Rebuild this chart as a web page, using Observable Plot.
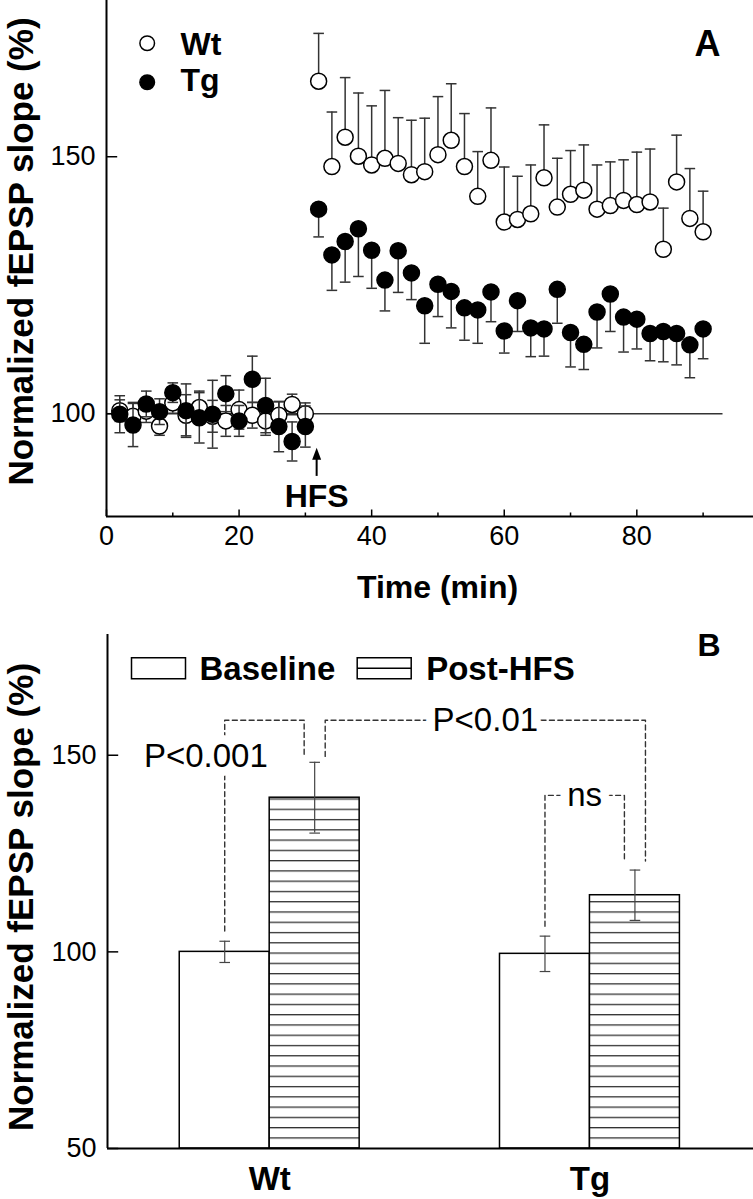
<!DOCTYPE html>
<html><head><meta charset="utf-8">
<script src="https://cdn.jsdelivr.net/npm/d3@7"></script>
<script src="https://cdn.jsdelivr.net/npm/@observablehq/plot@0.6"></script>
<style>
html,body{margin:0;padding:0;background:#fff;}
#chart svg{display:block;}
</style></head>
<body><div id="chart"></div>
<script>
// ---------------- Panel A data ----------------
const times = [2,4,6,8,10,12,14,16,18,20,22,24,26,28,30,
  32,34,36,38,40,42,44,46,48,50,52,54,56,58,60,62,64,66,68,70,72,74,76,78,80,82,84,86,88,90];
const wtMean = [100.6,99.5,100.5,97.6,102.1,99.7,101.2,99.5,98.6,100.8,99.7,98.6,99.7,101.8,100.0,
  164.7,148.1,153.8,150.1,148.4,149.7,148.7,146.5,147.1,150.4,153.2,148.1,142.3,149.3,137.3,
  137.8,138.9,145.9,140.2,142.7,143.5,139.8,140.5,141.5,140.7,141.2,132.0,145.1,138.0,135.4];
const wtErr = [2.1,2.7,2.2,1.8,2.0,4.0,3.2,3.1,3.0,3.8,2.5,2.8,2.6,2.0,2.1,
  9.3,10.6,11.6,12.3,11.5,13.2,8.9,10.6,10.4,11.3,11.0,10.3,8.7,10.2,10.7,
  8.4,9.5,10.3,9.5,8.5,8.8,8.6,8.5,7.9,10.2,10.3,8.0,9.1,9.7,7.9];
const tgMean = [99.9,97.8,101.9,100.4,104.1,100.6,99.2,99.9,103.9,98.6,106.7,101.6,97.5,94.6,97.5,
  139.8,130.9,133.5,136.0,131.8,126.0,131.7,127.4,121.0,125.2,123.8,120.6,120.2,123.7,116.1,
  122.0,116.7,116.5,124.2,115.8,113.5,119.8,123.3,118.8,118.4,115.6,116.0,115.6,113.4,116.5];
const tgErr = [3.6,4.2,2.5,2.5,1.9,5.2,4.9,6.6,3.5,3.0,4.5,5.3,4.9,3.8,4.0,
  5.4,6.9,7.9,9.3,7.4,6.0,8.1,5.2,7.3,6.3,7.1,6.3,6.5,5.8,4.3,
  6.0,5.6,5.3,6.6,6.7,4.9,7.0,7.3,6.8,5.8,5.3,5.9,6.1,6.4,5.8];
const seriesA = ["Wt", "Tg"];
const xMajorA = [0, 20, 40, 60, 80];
const xMinorA = [10, 30, 50, 70, 90];
const yTicksA = [100, 150];
const hfsTime = 31.7;
const hfsAnn = [{t: hfsTime, stem1: 87.8, stem2: 91.5, tip: 93.4, labelY: 81.9, label: "HFS"}];
const refLine = [{y: 100, from: 0, to: 93}];

// ---------------- Panel B data ----------------
const groups = ["Wt", "Tg"];
const conditions = ["Baseline", "Post-HFS"];
const baselineMean = [100.0, 99.5];
const baselineSem = [2.7, 4.5];
const postMean = [139.2, 114.4];
const postSem = [9.0, 6.4];
const yTicksB = [50, 100, 150];
// significance brackets: legs = [groupIndex, conditionIndex, side, bottom value]
const brackets = [
  {id: "b1", label: "P<0.001", top: 158.9, legs: [[0,0,0,105.3],[0,1,-1,149.7]], labelY: 149.8, labelShift: -0.21, labelAt: "leg"},
  {id: "b2", label: "P<0.01", top: 158.9, legs: [[0,1,1,149.7],[1,1,1,123.1]], labelAt: "mid"},
  {id: "b3", label: "ns", top: 139.8, legs: [[1,0,0,106.5],[1,1,-1,123.1]], labelAt: "mid"}
];

// ---------------- helpers ----------------
const fontFamily = "'Liberation Sans', Arial, Helvetica, sans-serif";
const seg = (x1,y1,x2,y2) => ({draw(ctx){ctx.moveTo(x1,y1); ctx.lineTo(x2,y2);}});
const capA = seg(-5.3,0,5.3,0);
const capB = seg(-5.3,0,5.3,0);
const yTickSym = seg(0,0,10.7,0);
const xMajorSym = seg(0,0,0,-7);
const xMinorSym = seg(0,0,0,-4);
const triUp = {draw(ctx){ctx.moveTo(0,0); ctx.lineTo(-4.5,12); ctx.lineTo(4.5,12); ctx.closePath();}};
const boxSym = {draw(ctx){ctx.rect(-27,-10.5,54,21);}};
const hatchBoxSym = {draw(ctx){ctx.rect(-27,-10.5,54,21); ctx.moveTo(-27,0); ctx.lineTo(27,0);}};

const rows = times.map((t, i) => {
  const base = t < hfsTime;
  return {
    t, base,
    wt: wtMean[i], wtHi: wtMean[i] + wtErr[i], wtLo: base ? wtMean[i] - wtErr[i] : wtMean[i],
    tg: tgMean[i], tgLo: tgMean[i] - tgErr[i], tgHi: base ? tgMean[i] + tgErr[i] : tgMean[i]
  };
});
const baseRows = rows.filter(d => d.base);
const errStyle = {stroke: "#333", strokeWidth: 1.5};
const capStyle = {stroke: "#333", strokeWidth: 1.5, fill: "none"};

const plotA = Plot.plot({
  width: 753, height: 615,
  marginLeft: 106, marginRight: 0, marginTop: 0, marginBottom: 99,
  x: {domain: [0, 97.6], axis: null},
  y: {domain: [80, 180.4], axis: null},
  style: {fontFamily, background: "white", overflow: "visible", color: "black"},
  marks: [
    Plot.ruleY(refLine, {y: "y", x1: "from", x2: "to", stroke: "#333", strokeWidth: 1.5}),
    // Wt
    Plot.ruleX(rows, {x: "t", y1: "wtLo", y2: "wtHi", ...errStyle}),
    Plot.dot(rows, {x: "t", y: "wtHi", symbol: capA, ...capStyle}),
    Plot.dot(baseRows, {x: "t", y: "wtLo", symbol: capA, ...capStyle}),
    Plot.dot(rows, {x: "t", y: "wt", r: 8, fill: "white", stroke: "black", strokeWidth: 1.5}),
    // Tg
    Plot.ruleX(rows, {x: "t", y1: "tgLo", y2: "tgHi", ...errStyle}),
    Plot.dot(rows, {x: "t", y: "tgLo", symbol: capA, ...capStyle}),
    Plot.dot(baseRows, {x: "t", y: "tgHi", symbol: capA, ...capStyle}),
    Plot.dot(rows, {x: "t", y: "tg", r: 8, fill: "black", stroke: "black", strokeWidth: 1.5}),
    // HFS arrow
    Plot.ruleX(hfsAnn, {x: "t", y1: "stem1", y2: "stem2", stroke: "black", strokeWidth: 2}),
    Plot.dot(hfsAnn, {x: "t", y: "tip", symbol: triUp, fill: "black", stroke: "none"}),
    Plot.text(hfsAnn, {x: "t", y: "labelY", text: "label", lineAnchor: "bottom", fontSize: 32, fontWeight: "bold"}),
    // axes
    Plot.ruleX([0], {stroke: "black", strokeWidth: 2}),
    Plot.ruleY([80], {stroke: "black", strokeWidth: 2}),
    Plot.dot(xMajorA, {x: d => d, frameAnchor: "bottom", symbol: xMajorSym, stroke: "black", strokeWidth: 1.5, fill: "none"}),
    Plot.dot(xMinorA, {x: d => d, frameAnchor: "bottom", symbol: xMinorSym, stroke: "black", strokeWidth: 1.5, fill: "none"}),
    Plot.dot(yTicksA, {y: d => d, frameAnchor: "left", symbol: yTickSym, stroke: "black", strokeWidth: 1.5, fill: "none"}),
    Plot.text(xMajorA, {x: d => d, frameAnchor: "bottom", dy: 20, text: d => String(d), lineAnchor: "middle", fontSize: 27}),
    Plot.text(yTicksA, {y: d => d, frameAnchor: "left", dx: -11, text: d => String(d), textAnchor: "end", lineAnchor: "middle", fontSize: 27}),
    Plot.text(["Time (min)"], {frameAnchor: "bottom", dx: 7.5, dy: 81, textAnchor: "middle", lineAnchor: "bottom", fontSize: 32, fontWeight: "bold"}),
    Plot.text(["Normalized fEPSP slope (%)"], {frameAnchor: "left", dx: -74, dy: -7, rotate: -90, textAnchor: "middle", lineAnchor: "bottom", fontSize: 35, fontWeight: "bold"}),
    // legend
    Plot.dot([seriesA[0]], {frameAnchor: "top-left", dx: 40.7, dy: 42.7, r: 7.3, fill: "white", stroke: "black", strokeWidth: 1.5}),
    Plot.dot([seriesA[1]], {frameAnchor: "top-left", dx: 40.7, dy: 81.7, r: 7.3, fill: "black", stroke: "black", strokeWidth: 1.5}),
    Plot.text([seriesA[0]], {frameAnchor: "top-left", dx: 74, dy: 54.3, textAnchor: "start", lineAnchor: "bottom", fontSize: 32, fontWeight: "bold"}),
    Plot.text([seriesA[1]], {frameAnchor: "top-left", dx: 74, dy: 90, textAnchor: "start", lineAnchor: "bottom", fontSize: 32, fontWeight: "bold"}),
    Plot.text(["A"], {frameAnchor: "top-right", dx: -33, dy: 55, textAnchor: "end", lineAnchor: "bottom", fontSize: 36, fontWeight: "bold"})
  ]
});

// ---------------- Panel B ----------------
const GROUP_STEP = 3.56;   // layout: distance between group starts, in bar widths
const LEG = 0.117;         // layout: bracket leg offset from bar centre, in bar widths
const xDomainB = [-0.803, 6.378];
const yDomainB = [50, 180.7];
const means = [baselineMean, postMean];
const sems = [baselineSem, postSem];
const rowsB = groups.flatMap((g, gi) => conditions.map((c, ci) => ({
  group: g, cond: c, ci,
  x1: gi * GROUP_STEP + ci, x2: gi * GROUP_STEP + ci + 1, xc: gi * GROUP_STEP + ci + 0.5,
  mean: means[ci][gi], sem: sems[ci][gi]
})));
const xOf = (gi, ci, side) => gi * GROUP_STEP + ci + 0.5 + side * LEG;
const bracketPts = brackets.flatMap(b => {
  const [a, c] = b.legs;
  return [
    {id: b.id, x: xOf(a[0], a[1], a[2]), y: a[3]},
    {id: b.id, x: xOf(a[0], a[1], a[2]), y: b.top},
    {id: b.id, x: xOf(c[0], c[1], c[2]), y: b.top},
    {id: b.id, x: xOf(c[0], c[1], c[2]), y: c[3]}
  ];
});
const bracketLabels = brackets.map(b => {
  const [a, c] = b.legs;
  const xa = xOf(a[0], a[1], a[2]), xc2 = xOf(c[0], c[1], c[2]);
  return b.labelAt === "mid"
    ? {label: b.label, x: (xa + xc2) / 2, y: b.top}
    : {label: b.label, x: xa + b.labelShift, y: b.labelY};
});

const plotB = Plot.plot({
  width: 753, height: 584,
  marginLeft: 107, marginRight: 0, marginTop: 19, marginBottom: 51,
  x: {domain: xDomainB, axis: null},
  y: {domain: yDomainB, axis: null},
  style: {fontFamily, background: "white", overflow: "visible", color: "black"},
  marks: [
    Plot.rect(rowsB.filter(d => d.ci === 0), {x1: "x1", x2: "x2", y1: () => yDomainB[0], y2: "mean", fill: "white", stroke: "black", strokeWidth: 1.5}),
    Plot.rect(rowsB.filter(d => d.ci === 1), {x1: "x1", x2: "x2", y1: () => yDomainB[0], y2: "mean", fill: "url(#hatchB)", stroke: "black", strokeWidth: 1.5}),
    Plot.ruleX(rowsB, {x: "xc", y1: d => d.mean - d.sem, y2: d => d.mean + d.sem, stroke: "#444", strokeWidth: 1.2}),
    Plot.dot(rowsB, {x: "xc", y: d => d.mean + d.sem, symbol: capB, stroke: "#444", strokeWidth: 1.2, fill: "none"}),
    Plot.dot(rowsB, {x: "xc", y: d => d.mean - d.sem, symbol: capB, stroke: "#444", strokeWidth: 1.2, fill: "none"}),
    // brackets
    Plot.line(bracketPts, {x: "x", y: "y", z: "id", stroke: "#333", strokeWidth: 1.4, strokeDasharray: "5,3.4"}),
    Plot.text(bracketLabels, {x: "x", y: "y", text: "label", lineAnchor: "middle", fontSize: 33, fill: "black", stroke: "white", strokeWidth: 18, paintOrder: "stroke"}),
    // axes
    Plot.ruleX([xDomainB[0]], {stroke: "black", strokeWidth: 2}),
    Plot.ruleY([yDomainB[0]], {stroke: "black", strokeWidth: 2}),
    Plot.dot(yTicksB, {y: d => d, frameAnchor: "left", symbol: yTickSym, stroke: "black", strokeWidth: 1.5, fill: "none"}),
    Plot.text(yTicksB, {y: d => d, frameAnchor: "left", dx: -11, text: d => String(d), textAnchor: "end", lineAnchor: "middle", fontSize: 27}),
    Plot.text(groups, {x: (d, i) => i * GROUP_STEP + 1, frameAnchor: "bottom", dy: 31, text: d => d, lineAnchor: "middle", fontSize: 33, fontWeight: "bold"}),
    Plot.text(["Normalized fEPSP slope (%)"], {frameAnchor: "left", dx: -75, dy: 5.5, rotate: -90, textAnchor: "middle", lineAnchor: "bottom", fontSize: 35, fontWeight: "bold"}),
    // legend
    Plot.dot([conditions[0]], {frameAnchor: "top-left", dx: 51, dy: 33.7, symbol: boxSym, fill: "white", stroke: "black", strokeWidth: 1.5}),
    Plot.dot([conditions[1]], {frameAnchor: "top-left", dx: 276.7, dy: 33.7, symbol: hatchBoxSym, fill: "white", stroke: "black", strokeWidth: 1.5}),
    Plot.text([conditions[0]], {frameAnchor: "top-left", dx: 92, dy: 45, textAnchor: "start", lineAnchor: "bottom", fontSize: 33, fontWeight: "bold"}),
    Plot.text([conditions[1]], {frameAnchor: "top-left", dx: 318.7, dy: 45, textAnchor: "start", lineAnchor: "bottom", fontSize: 33, fontWeight: "bold"}),
    Plot.text(["B"], {frameAnchor: "top-right", dx: -33, dy: 21, textAnchor: "end", lineAnchor: "bottom", fontSize: 32, fontWeight: "bold"})
  ]
});

// hatch pattern for Post-HFS bars
const defs = d3.select(plotB).insert("defs", ":first-child");
const pat = defs.append("pattern").attr("id", "hatchB").attr("patternUnits", "userSpaceOnUse")
  .attr("x", 0).attr("y", 8.8).attr("width", 12).attr("height", 10.27);
pat.append("rect").attr("width", 12).attr("height", 10.27).attr("fill", "white");
pat.append("line").attr("x1", 0).attr("x2", 12).attr("y1", 0.65).attr("y2", 0.65)
  .attr("stroke", "#333").attr("stroke-width", 1.3);

document.getElementById("chart").append(plotA, plotB);
</script>
</body></html>
